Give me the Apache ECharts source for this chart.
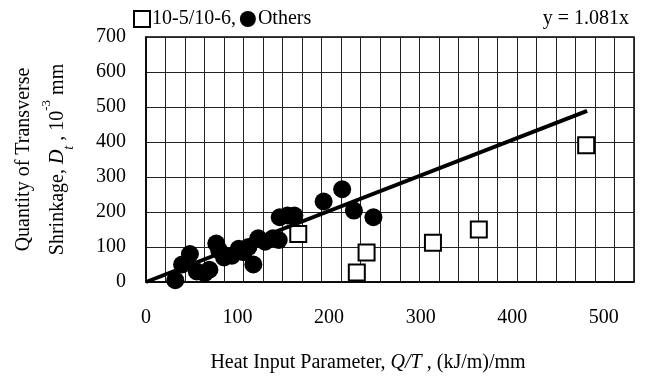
<!DOCTYPE html>
<html>
<head>
<meta charset="utf-8">
<script src="https://cdn.jsdelivr.net/npm/echarts@6/dist/echarts.min.js"></script>
<style>
  html, body { margin: 0; padding: 0; background: #fff; }
  #main { width: 654px; height: 385px; }
</style>
</head>
<body>
<div id="main"></div>
<script>
// 10-5/10-6 specimens (hollow squares)
var squareX = [156, 216, 226, 294, 341, 451];
var squareY = [137, 27, 84, 112, 150, 391];

// other specimens (filled dots)
var dotX = [30, 37, 45, 52, 60, 65, 72, 75, 80, 88, 95, 100, 105, 110, 115, 122, 130, 136, 137, 145, 152, 182, 201, 213, 233];
var dotY = [5, 50, 80, 30, 25, 35, 110, 90, 70, 75, 95, 85, 100, 50, 125, 115, 125, 120, 185, 190, 190, 230, 265, 204, 185];

// fitted line y = 1.081x
var fitSlope = 1.081;
var fitX = [0, 452];

var xTicks = [0, 100, 200, 300, 400, 500];
var yTicks = [0, 100, 200, 300, 400, 500, 600, 700];

var serif = '"Liberation Serif", "DejaVu Serif", serif';

function pairs(xs, ys) {
  return xs.map(function (x, i) { return [x, ys[i]]; });
}

var chart = echarts.init(document.getElementById('main'));

var option = {
  animation: false,
  backgroundColor: '#fff',
  textStyle: { fontFamily: serif, color: '#000' },
  title: {
    text: 'y = 1.081x',
    right: 20,
    top: 4,
    textStyle: { fontFamily: serif, fontSize: 20, fontWeight: 'normal', color: '#000' }
  },
  legend: {
    left: 128,
    top: 4,
    itemWidth: 16,
    itemHeight: 16,
    itemGap: 4,
    data: ['10-5/10-6', 'Others'],
    formatter: function (name) {
      return name === '10-5/10-6' ? name + ',' : name;
    },
    textStyle: { fontFamily: serif, fontSize: 20, color: '#000', padding: [0, 0, 0, -3] }
  },
  grid: {
    left: 139,
    right: 20,
    top: 37,
    bottom: 103,
    show: true,
    borderColor: '#000',
    borderWidth: 1.5
  },
  xAxis: [
    {
      type: 'value',
      min: 0,
      max: 500,
      interval: 20,
      axisLine: { show: true, lineStyle: { color: '#000', width: 1.5 } },
      axisTick: { show: false },
      axisLabel: { show: false },
      splitLine: { show: true, lineStyle: { color: '#222', width: 1 } }
    },
    {
      // tick labels as printed in the figure
      type: 'value',
      position: 'bottom',
      min: 0,
      max: 533,
      interval: 100,
      axisLine: { show: false },
      axisTick: { show: false },
      splitLine: { show: false },
      axisLabel: {
        margin: 26,
        fontFamily: serif,
        fontSize: 20,
        color: '#000',
        formatter: function (v) {
          return xTicks.indexOf(v) >= 0 ? String(v) : '';
        }
      },
      name: 'Heat Input Parameter, {i|Q/T} , (kJ/m)/mm',
      nameLocation: 'middle',
      nameGap: 71,
      nameTextStyle: {
        fontFamily: serif,
        fontSize: 20,
        color: '#000',
        padding: [0, 44, 0, 0],
        rich: {
          i: { fontFamily: serif, fontSize: 20, fontStyle: 'italic', color: '#000' }
        }
      }
    }
  ],
  yAxis: {
    type: 'value',
    min: 0,
    max: 700,
    interval: 100,
    axisLine: { show: true, lineStyle: { color: '#000', width: 1.5 } },
    axisTick: { show: false },
    axisLabel: {
      margin: 20,
      fontFamily: serif,
      fontSize: 20,
      color: '#000',
      formatter: function (v) {
        return yTicks.indexOf(v) >= 0 ? String(v) : '';
      }
    },
    splitLine: { show: true, lineStyle: { color: '#222', width: 1 } },
    name: 'Quantity of Transverse\nShrinkage, {i|D}{sub|t} , 10{sup|-3} mm',
    nameLocation: 'middle',
    nameRotate: 90,
    nameGap: 70,
    nameTextStyle: {
      fontFamily: serif,
      fontSize: 20,
      color: '#000',
      lineHeight: 32,
      rich: {
        i: { fontFamily: serif, fontSize: 20, fontStyle: 'italic', color: '#000', lineHeight: 32 },
        sub: { fontFamily: serif, fontSize: 14, fontStyle: 'italic', color: '#000', verticalAlign: 'bottom', lineHeight: 28 },
        sup: { fontFamily: serif, fontSize: 13, color: '#000', verticalAlign: 'top', lineHeight: 36 }
      }
    }
  },
  series: [
    {
      name: '10-5/10-6',
      type: 'scatter',
      symbol: 'rect',
      symbolSize: 16,
      itemStyle: { color: '#fff', borderColor: '#000', borderWidth: 2, opacity: 1 },
      data: pairs(squareX, squareY),
      z: 3
    },
    {
      name: 'Others',
      type: 'scatter',
      symbol: 'circle',
      symbolSize: 18,
      itemStyle: { color: '#000', opacity: 1 },
      data: pairs(dotX, dotY),
      z: 3
    },
    {
      name: 'fit',
      type: 'line',
      showSymbol: false,
      symbol: 'none',
      lineStyle: { color: '#000', width: 4 },
      data: fitX.map(function (x) { return [x, fitSlope * x]; }),
      z: 4
    }
  ]
};

chart.setOption(option);
</script>
</body>
</html>
